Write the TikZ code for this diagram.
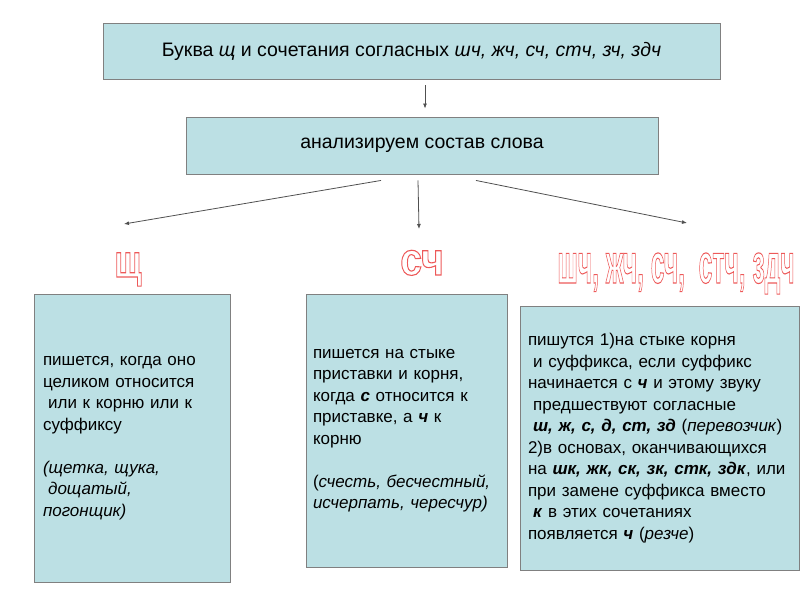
\documentclass[tikz,border=0pt]{standalone}
\usepackage{fontspec}
\setmainfont{Liberation Sans}
\usetikzlibrary{arrows.meta,calc}

\definecolor{boxfill}{RGB}{188,224,228}
\definecolor{boxline}{RGB}{128,128,128}
\definecolor{arrowgray}{RGB}{80,80,80}

\newcommand{\ind}{\hspace*{0.3em}}
\newcommand{\bitx}[1]{\textbf{\textit{#1}}}
% hollow red letters: stroke only
\newcommand{\hollow}[2]{\scalebox{#1}[1]{\special{pdf:literal direct 1 Tr 1.1 w 0.93 0.35 0.35 RG}#2\special{pdf:literal direct 0 Tr 0 0 0 RG}}}

\begin{document}
\begin{tikzpicture}[x=1pt,y=-1pt,
  box/.style={draw=boxline,line width=0.9pt,fill=boxfill,inner sep=0pt},
  txt/.style={font=\fontsize{17}{21.5}\selectfont},
  big/.style={font=\fontsize{19.5}{24}\selectfont},
  rule/.style={box,txt,align=left},
  arr/.style={draw=arrowgray,line width=0.8pt,-{Latex[length=5pt,width=4pt]}},
  hdr/.style={anchor=base,inner sep=0pt,font=\bfseries}]
\useasboundingbox (0,0) rectangle (800,600);

% boxes on top
\node[box,big,minimum width=617,minimum height=56] (top) at (411.5,51)
  {Буква \textit{щ} и сочетания согласных \textit{шч, жч, сч, стч, зч, здч}};
\node[box,big,minimum width=472,minimum height=57] (anal) at (422,145.5)
  {анализируем состав слова};

% the three rules
\node[rule,minimum width=196,minimum height=288,text width=178] (rshch) at (132,438)
  {пишется, когда оно\\
   целиком относится\\
   \ind или к корню или к\\
   суффиксу\\[21.5pt]
   \textit{(щетка, щука,}\\
   \ind\textit{дощатый,}\\
   \textit{погонщик)}};
\node[rule,minimum width=201,minimum height=273,text width=187] (rsch) at (406.5,430.5)
  {пишется на стыке\\
   приставки и корня,\\
   когда \bitx{с} относится к\\
   приставке, а \bitx{ч} к\\
   корню\\[21.5pt]
   (\textit{счесть, бесчестный,}\\
   \textit{исчерпать, чересчур)}};
\node[rule,minimum width=279,minimum height=264,text width=263] (rrest) at (659.5,438)
  {пишутся 1)на стыке корня\\
   \ind и суффикса, если суффикс\\
   начинается с \bitx{ч} и этому звуку\\
   \ind предшествуют согласные\\
   \ind\bitx{ш, ж, с, д, ст, зд} (\textit{перевозчик})\\
   2)в основах, оканчивающихся\\
   на \bitx{шк, жк, ск, зк, стк, здк}, или\\
   при замене суффикса вместо\\
   \ind\bitx{к} в этих сочетаниях\\
   появляется \bitx{ч} (\textit{резче})};

% headings
\node[hdr] (lshch) at (128,277) {\fontsize{46}{46}\selectfont\hollow{0.7}{щ}};
\node[hdr] (lsch) at (422,275) {\fontsize{46}{46}\selectfont\hollow{0.85}{сч}};
\node[hdr] (lrest) at (676,283) {\fontsize{56}{56}\selectfont\hollow{0.44}{шч, жч, сч,\ \ стч, здч}};

% arrows
\coordinate (e1) at (124,224);
\coordinate (e2) at (419,229);
\coordinate (e3) at (687,223);
\draw[arr] ($(top.south)+(13.5,6)$) -- ($(anal.north)+(3,-8)$);
\draw[arr] ($(anal.south)+(-41,6)$) -- (e1);
\draw[arr] ($(anal.south)+(-4,6)$) -- (e2);
\draw[arr] ($(anal.south)+(54,6)$) -- (e3);

\end{tikzpicture}
\end{document}
